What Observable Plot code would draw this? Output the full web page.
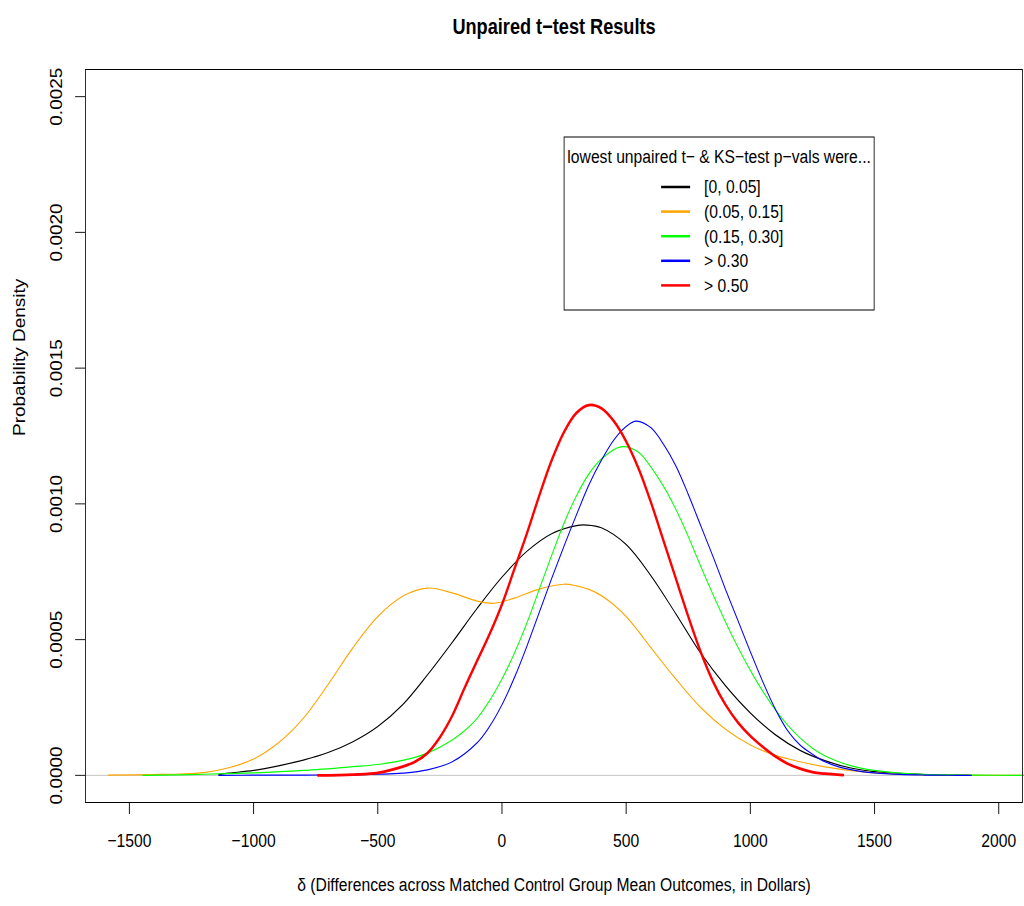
<!DOCTYPE html>
<html><head><meta charset="utf-8">
<script src="https://cdn.jsdelivr.net/npm/d3@7"></script>
<script src="https://cdn.jsdelivr.net/npm/@observablehq/plot@0.6"></script>
<style>
body{margin:0;background:#fff;}
#chart{position:relative;width:1024px;height:906px;overflow:hidden;}
</style></head><body><div id="chart"></div>
<script>
// Density values are in units of 1e-4
const blackX = [-1140,-1100,-1000,-900,-800,-700,-600,-500,-400,-300,-200,-100,0,100,200,300,340,400,500,600,700,800,900,1000,1100,1200,1300,1400,1500,1600,1700,1800,1885];
const blackY = [0.03,0.08,0.18,0.35,0.56,0.84,1.24,1.8,2.6,3.7,4.9,6.15,7.3,8.25,8.9,9.2,9.22,9.12,8.5,7.35,5.95,4.5,3.3,2.3,1.5,0.92,0.54,0.28,0.14,0.07,0.03,0.01,0];

const orangeX = [-1585,-1400,-1300,-1200,-1100,-1000,-900,-800,-700,-600,-500,-400,-300,-200,-100,-30,50,150,250,300,350,400,450,500,550,600,700,800,900,1000,1100,1200,1300,1400,1500,1600,1700,1800,2100];
const orangeY = [0.01,0.03,0.05,0.1,0.28,0.6,1.2,2.1,3.35,4.7,5.85,6.6,6.9,6.72,6.42,6.34,6.53,6.86,7.04,6.98,6.85,6.62,6.28,5.85,5.3,4.7,3.55,2.5,1.7,1.12,0.74,0.5,0.31,0.18,0.09,0.045,0.02,0.01,0];

const greenX = [-1446,-1300,-1200,-1000,-800,-600,-500,-400,-300,-200,-150,-100,-50,0,50,100,150,200,250,300,350,400,478,550,600,650,700,750,800,850,900,950,1000,1050,1100,1150,1200,1250,1300,1350,1400,1450,1500,1600,1700,1800,1900,2100];
const greenY = [0,0.02,0.04,0.09,0.18,0.32,0.4,0.55,0.82,1.3,1.65,2.1,2.75,3.55,4.5,5.6,6.85,8.1,9.29,10.3,11.1,11.65,12.1,11.9,11.35,10.65,9.8,8.8,7.7,6.65,5.65,4.72,3.87,3.1,2.42,1.85,1.38,1.0,0.72,0.52,0.37,0.26,0.18,0.08,0.035,0.015,0.008,0];

const blueX = [-1140,-1000,-800,-600,-500,-400,-300,-200,-100,-50,0,50,100,150,200,250,300,350,400,450,500,540,600,650,700,750,800,850,900,950,1000,1050,1100,1150,1200,1250,1300,1350,1400,1450,1500,1600,1700,1800,1890];
const blueY = [0,0.005,0.01,0.02,0.04,0.08,0.2,0.5,1.2,1.8,2.6,3.6,4.75,6.0,7.25,8.45,9.6,10.7,11.6,12.35,12.85,13.05,12.8,12.2,11.4,10.35,9.2,8.05,6.85,5.7,4.55,3.45,2.45,1.65,1.12,0.78,0.5,0.33,0.22,0.14,0.09,0.035,0.012,0.004,0];

const redX = [-741,-600,-500,-400,-350,-300,-250,-200,-150,-100,-50,0,50,100,150,200,250,300,350,400,450,500,550,600,650,700,750,800,850,900,950,1000,1050,1100,1150,1200,1250,1300,1373];
const redY = [0,0.03,0.09,0.32,0.5,0.82,1.4,2.2,3.23,4.22,5.2,6.3,7.6,8.9,10.3,11.6,12.65,13.35,13.64,13.52,13.05,12.3,11.3,10.05,8.65,7.25,5.85,4.55,3.45,2.6,1.95,1.45,1.05,0.7,0.43,0.25,0.12,0.06,0.01];

const seriesNames = ["[0, 0.05]","(0.05, 0.15]","(0.15, 0.30]","> 0.30","> 0.50"];
const seriesColors = ["#000000","#FFA500","#00FF00","#0000FF","#FF0000"];
const seriesWidths = [1.2,1.2,1.2,1.2,2.8];
const seriesX = [blackX, orangeX, greenX, blueX, redX];
const seriesY = [blackY, orangeY, greenY, blueY, redY];

const xTicks = [-1500,-1000,-500,0,500,1000,1500,2000];
const yTicks = [0,0.0005,0.0010,0.0015,0.0020,0.0025];

const titleText = "Unpaired t\u2212test Results";
const xLabel = "\u03B4 (Differences across Matched Control Group Mean Outcomes, in Dollars)";
const yLabel = "Probability Density";
const legendTitle = "lowest unpaired t\u2212 & KS\u2212test p\u2212vals were...";

const FONT = '"Liberation Sans", Arial, Helvetica, sans-serif';
// The reference is horizontally condensed; draw wider and squeeze into 1024px.
const SQ = 0.825;
const OUT_W = 1024, OUT_H = 906;
const W = Math.round(OUT_W / SQ);
const sx = v => v / SQ; // screen px -> internal px (horizontal)

const tables = seriesNames.map((name, k) => seriesX[k].map((x, i) => ({series: name, x, y: seriesY[k][i] * 1e-4})));

const plot = Plot.plot({
  width: W, height: OUT_H,
  marginTop: 69, marginBottom: 104, marginLeft: sx(85), marginRight: W - sx(1022),
  style: {fontFamily: FONT, fontSize: "19px", background: "#fff", color: "#000"},
  x: {domain: [-1677, 2096]},
  y: {domain: [-0.0001, 0.0026]},
  marks: [
    Plot.ruleY([0], {stroke: "#bebebe", strokeWidth: 1}),
    ...tables.map((t, k) => Plot.line(t, {x: "x", y: "y", stroke: seriesColors[k], strokeWidth: seriesWidths[k], curve: "catmull-rom"})),
    Plot.frame({stroke: "#000", strokeWidth: 1}),
    Plot.axisX(xTicks, {tickSize: 12, tickPadding: 19, fontSize: 19, label: null, stroke: "#000", tickFormat: d => d3.format("d")(d)}),
    Plot.axisY(yTicks, {tickSize: 12, label: null, stroke: "#000", tickFormat: () => ""}),
    Plot.text(yTicks, {y: d => d, text: d => d3.format(".4f")(d), frameAnchor: "left", dx: -sx(28), rotate: -90, textAnchor: "middle", fontSize: 19, fill: "#000"}),
    Plot.text([titleText], {frameAnchor: "top", dy: -51, fontWeight: "bold", fontSize: 22, fill: "#000"}),
    Plot.text([xLabel], {frameAnchor: "bottom", dy: 88, fontSize: 19, fill: "#000"}),
    Plot.text([yLabel], {frameAnchor: "left", dx: -sx(65), rotate: -90, fontSize: 19, fill: "#000"})
  ]
});
plot.setAttribute("width", OUT_W);
plot.setAttribute("height", OUT_H);
plot.setAttribute("preserveAspectRatio", "none");
plot.style.width = OUT_W + "px";
plot.style.height = OUT_H + "px";
plot.style.maxWidth = "none";
document.getElementById("chart").appendChild(plot);

// Legend box (layout in screen pixels, converted horizontally)
const svg = d3.select(plot);
const lg = svg.append("g").attr("font-family", FONT).attr("font-size", 19).attr("text-anchor", "start");
lg.append("rect").attr("x", sx(564)).attr("y", 137).attr("width", sx(310)).attr("height", 173)
  .attr("fill", "#fff").attr("stroke", "#000").attr("stroke-width", 1);
lg.append("text").attr("x", sx(719)).attr("y", 163).attr("text-anchor", "middle").attr("fill", "#000").text(legendTitle);
seriesNames.forEach((name, k) => {
  const yy = 187 + k * 24.6;
  lg.append("line").attr("x1", sx(661)).attr("x2", sx(690)).attr("y1", yy).attr("y2", yy)
    .attr("stroke", seriesColors[k]).attr("stroke-width", 2.5);
  lg.append("text").attr("x", sx(704)).attr("y", yy + 6.5).attr("text-anchor", "start").attr("fill", "#000").text(name);
});
</script></body></html>
